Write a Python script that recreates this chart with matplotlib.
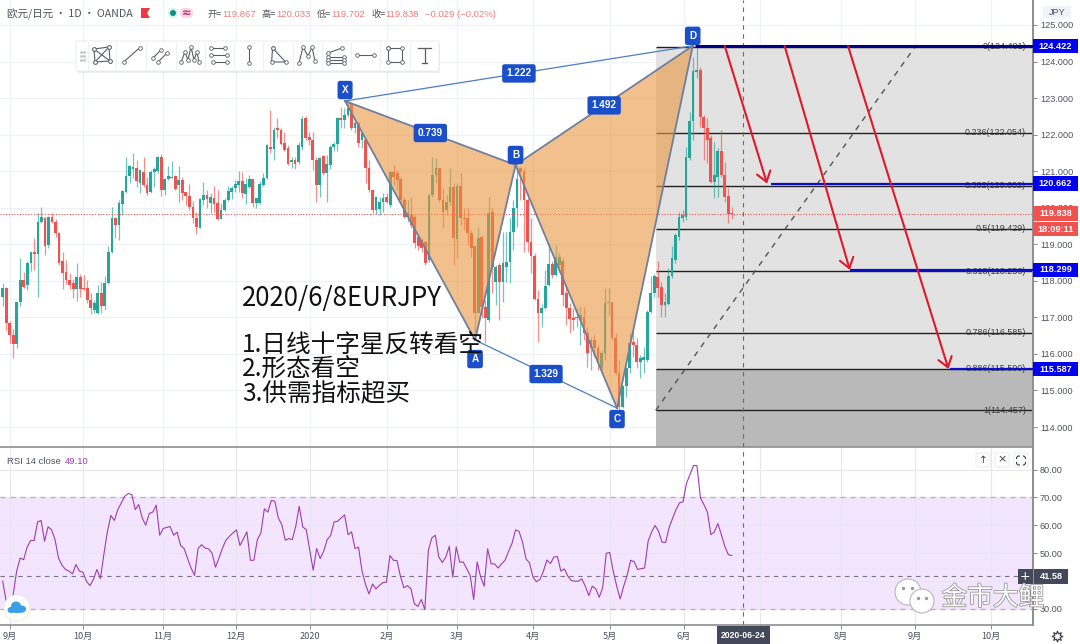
import numpy as np
import matplotlib
matplotlib.use('Agg')
import matplotlib.pyplot as plt
import matplotlib.patheffects as pe
from matplotlib.patches import Rectangle, FancyBboxPatch, Circle, Polygon, Ellipse
from matplotlib.transforms import blended_transform_factory

plt.rcParams['font.family'] = ['Noto Sans CJK SC', 'DejaVu Sans']

# daily candles, 2019-09 to 2020-06
opens = [117.57,117.80,116.86,116.52,116.27,117.43,118.03,117.89,118.48,118.78,
    118.74,119.60,119.71,118.98,119.74,119.62,119.32,118.53,118.23,118.03,
    117.93,117.77,118.10,117.80,117.80,117.48,117.21,117.13,117.66,117.30,
    117.95,118.80,119.71,119.53,120.10,120.44,120.87,121.05,121.08,120.69,
    120.99,120.63,120.42,120.99,121.01,121.40,120.49,120.78,120.81,120.87,
    120.63,120.76,120.42,120.33,120.03,119.71,119.44,120.21,120.35,120.12,
    120.26,120.12,119.69,119.94,120.21,120.44,120.53,120.62,120.73,120.38,
    120.58,120.79,120.12,120.12,120.62,120.82,121.67,121.60,122.17,122.14,
    121.78,121.63,121.26,121.31,121.26,121.67,122.46,121.94,121.85,121.31,
    120.62,121.42,120.94,121.17,121.65,121.74,122.45,122.40,122.54,122.86,
    122.17,122.31,121.85,121.85,121.08,120.49,119.94,119.96,120.17,120.30,
    120.08,120.99,120.94,120.80,120.21,119.76,119.80,119.76,119.19,119.12,
    119.07,118.57,120.35,120.90,121.08,120.21,119.94,120.17,120.58,119.14,
    120.60,119.71,119.71,119.32,118.94,117.11,119.19,117.29,116.93,119.89,
    117.98,118.43,117.98,118.39,118.52,119.35,119.98,121.08,120.99,120.21,
    119.05,118.68,117.50,117.11,117.25,117.89,118.46,118.16,118.43,118.55,
    117.66,117.25,116.97,116.97,116.93,117.02,116.56,116.15,116.38,116.15,
    115.61,116.02,117.39,117.43,116.43,115.47,114.56,115.11,115.61,116.34,
    116.25,115.79,115.83,115.83,117.16,117.66,118.10,117.84,117.34,117.38,
    118.12,118.57,119.21,119.71,119.76,121.35,122.36,123.72,123.77,122.47,
    122.17,121.90,120.71,120.85,121.54,120.90,120.32,119.867]
highs = [117.93,117.84,116.89,116.68,117.43,118.62,118.25,118.53,118.80,119.17,
    119.85,120.01,119.74,119.78,119.85,119.69,119.35,118.80,118.57,118.21,
    118.05,118.48,118.19,118.16,118.03,117.66,117.48,117.89,117.98,118.12,
    118.94,120.01,119.74,120.21,120.49,121.38,121.17,121.49,121.31,121.04,
    121.38,120.85,121.04,121.11,121.42,121.47,120.81,121.13,121.29,120.90,
    121.13,120.85,120.44,120.65,120.19,119.89,120.26,120.70,120.49,120.39,
    120.60,120.49,120.12,120.26,120.60,120.60,120.76,121.01,120.97,120.82,
    120.90,120.80,120.28,120.73,120.94,121.74,122.67,122.22,122.46,122.17,
    122.08,121.72,121.40,121.40,121.79,122.52,122.52,122.08,122.08,121.40,
    121.40,121.44,121.44,121.72,121.81,122.49,122.77,122.74,122.92,122.90,
    122.36,122.34,122.04,121.90,121.31,120.50,120.32,120.30,120.39,120.39,
    121.01,121.17,121.03,120.83,120.30,120.21,120.30,119.80,119.27,119.16,
    119.10,120.38,121.40,121.35,121.08,120.53,120.35,121.08,120.67,120.67,
    120.94,119.98,119.98,119.39,118.95,119.48,119.25,117.48,120.30,119.98,
    118.43,118.48,119.35,119.35,119.71,120.21,121.12,121.12,121.08,120.26,
    119.71,118.75,117.75,117.38,118.30,119.03,118.53,118.98,118.75,118.62,
    117.80,117.39,117.25,117.25,117.29,117.29,116.75,116.47,116.52,116.25,
    116.11,117.80,117.80,117.43,116.56,115.83,115.15,115.65,116.56,116.66,
    116.43,115.97,116.20,117.20,118.12,118.20,118.55,117.98,117.66,118.34,
    118.94,119.30,119.89,119.94,121.67,122.63,124.13,124.41,123.86,122.54,
    122.45,121.99,121.81,121.63,122.13,121.26,120.53,120.033]
lows = [117.30,116.66,116.29,115.88,116.16,117.30,117.80,117.75,118.28,118.30,
    117.57,119.58,118.71,118.89,119.58,119.21,118.44,117.77,117.92,117.77,
    117.52,117.46,117.57,117.75,117.39,117.09,117.11,117.09,117.13,117.21,
    117.92,118.76,119.17,119.12,119.80,120.40,120.67,120.81,120.58,120.40,
    120.58,120.35,120.40,120.58,120.94,120.31,120.35,120.76,120.81,120.49,
    120.17,120.21,120.08,119.94,119.57,119.27,119.44,120.08,119.98,119.85,
    119.88,119.66,119.69,119.91,120.19,120.24,120.44,120.44,120.26,120.09,
    120.53,120.03,119.98,120.09,120.60,120.80,121.49,121.31,121.92,121.72,
    121.54,121.17,121.10,121.06,121.21,121.58,121.85,121.73,121.03,120.15,
    120.30,120.90,120.17,121.06,121.54,121.54,122.19,122.19,122.49,122.13,
    122.04,121.67,121.63,120.67,120.44,119.85,119.82,119.80,119.89,120.12,
    120.03,120.62,120.49,120.12,119.71,119.62,119.44,118.89,118.84,118.80,
    118.43,118.52,120.30,120.67,120.17,119.44,119.80,120.08,118.43,118.62,
    119.53,119.39,118.98,118.66,116.56,117.11,117.02,116.31,116.88,117.66,
    117.34,116.93,117.43,117.98,117.93,118.84,119.48,120.21,118.80,118.80,
    118.21,117.48,116.34,116.73,117.22,117.86,118.07,118.13,118.25,117.30,
    116.79,116.56,116.66,116.75,116.25,116.38,115.65,115.56,115.93,115.56,
    115.56,115.83,117.07,116.38,115.42,114.47,114.51,114.83,115.47,115.93,
    115.61,115.33,115.47,115.79,117.11,117.57,117.57,117.02,117.02,117.34,
    118.07,118.48,119.12,119.62,119.66,121.31,121.85,123.54,122.20,121.32,
    121.22,120.67,120.26,120.30,120.85,120.17,119.59,119.702]
closes = [117.80,116.86,116.52,116.27,117.43,118.03,117.84,118.48,118.78,118.74,
    119.62,119.74,118.96,119.74,119.60,119.32,118.50,118.21,118.01,117.89,
    117.77,118.10,117.77,117.77,117.48,117.25,117.39,117.66,117.30,117.95,
    118.80,119.71,119.53,120.12,120.46,120.87,121.13,121.11,120.72,121.02,
    120.63,120.40,120.99,121.05,121.40,120.49,120.79,120.87,120.85,120.51,
    120.76,120.40,120.31,120.01,119.71,119.48,120.24,120.35,120.24,120.30,
    120.09,119.69,119.94,120.21,120.47,120.55,120.64,120.73,120.40,120.64,
    120.79,120.12,120.26,120.64,120.82,121.72,121.60,122.13,122.13,121.74,
    121.58,121.21,121.31,121.21,121.72,122.43,121.90,121.85,121.31,120.62,
    121.35,120.94,121.19,121.67,121.74,122.45,122.40,122.54,122.72,122.17,
    122.31,121.76,122.04,121.08,120.49,119.94,120.30,120.17,120.26,120.17,
    120.99,120.85,120.76,120.21,119.76,119.85,119.53,119.03,118.94,118.89,
    118.48,120.35,120.90,121.08,120.21,119.89,120.17,120.58,119.16,120.60,
    119.71,119.69,119.30,118.89,117.11,119.16,117.29,116.97,119.85,118.39,
    118.39,117.98,118.48,118.52,119.35,119.98,120.80,120.99,120.21,119.05,
    118.68,117.50,117.11,117.25,117.86,118.46,118.16,118.64,118.66,117.61,
    117.25,116.95,116.93,117.02,117.07,116.56,116.02,116.38,116.15,115.83,
    116.02,117.39,117.43,116.43,115.47,114.56,115.11,115.61,116.29,116.25,
    115.79,115.88,115.93,117.16,117.66,118.12,117.80,117.34,117.43,118.12,
    118.62,119.26,119.76,119.80,121.40,122.36,123.75,123.77,122.47,122.17,
    121.85,120.71,120.90,121.54,120.90,120.30,119.83,119.838]

rsi = [39.9,32.7,30.3,35.1,43.5,48.2,47.6,52.1,54.5,54.5,
    61.2,61.7,54.2,59.4,58.4,54.8,48.2,45.6,44.1,43.5,
    42.5,45.9,43.5,43.1,39.9,38.3,40.5,44.1,40.8,49.5,
    57.6,63.5,61.7,65.6,68.0,70.4,71.4,71.0,65.6,67.4,
    62.6,60.0,64.2,64.7,67.2,56.4,58.8,59.2,59.5,56.4,
    57.5,52.7,51.6,48.0,44.6,42.0,51.6,53.0,51.8,51.5,
    50.0,44.9,48.2,51.8,54.6,56.0,57.2,58.3,52.7,55.1,
    57.6,47.4,47.4,54.8,57.2,65.9,64.7,68.9,68.6,62.6,
    60.2,54.6,55.2,54.8,59.6,66.8,59.4,58.4,51.2,43.8,
    51.6,48.0,50.6,54.8,56.3,61.2,61.4,62.6,63.7,56.6,
    57.6,51.6,52.1,43.5,38.7,35.3,38.9,37.1,38.4,39.4,
    39.5,49.1,47.4,47.3,41.7,37.5,38.3,37.2,31.8,30.8,
    33.3,29.7,50.9,55.4,56.4,48.6,46.6,48.5,52.4,41.3,
    52.2,46.7,46.8,44.4,41.9,33.3,46.8,41.4,38.1,51.5,
    46.1,46.1,44.6,46.1,47.4,50.6,53.5,58.3,57.8,54.0,
    47.9,46.5,41.3,39.7,40.5,43.5,47.5,46.2,48.6,48.7,
    43.5,44.3,41.7,40.1,39.9,39.9,40.7,38.1,34.7,38.1,
    37.1,34.1,37.7,49.9,50.2,43.5,38.1,33.5,38.1,42.0,
    47.4,46.9,44.1,44.4,44.6,54.2,57.5,59.9,57.8,53.9,
    53.8,59.0,62.4,65.6,68.0,68.4,75.0,78.2,81.4,81.4,
    69.8,67.4,64.7,56.6,57.6,60.6,56.6,52.4,49.4,49.10]

# harmonic pattern pivots (bar index, price)
pivot_names = ['X', 'A', 'B', 'C', 'D']
pivot_bars = [97.2, 134.1, 145.6, 174.4, 195.9]
pivot_prices = [122.92, 116.38, 121.17, 114.52, 124.43]
ratio_labels = ['0.739', '1.222', '1.492', '1.329']
ratio_legs = [('X', 'B'), ('X', 'D'), ('B', 'D'), ('A', 'C')]

fib_ratios = ['0', '0.236', '0.382', '0.5', '0.618', '0.786', '0.886', '1']
fib_prices = [124.401, 122.054, 120.602, 119.429, 118.256, 116.585, 115.590, 114.457]
fib_start = 185.4

# targets: horizontal line start bar, price; arrows go from the D level down to them
target_bars = [218.0, 240.5, 269.0]
target_prices = [120.662, 118.299, 115.587]
arrow_starts = [205.0, 222.0, 240.0]
arrow_tips = [217.0, 240.5, 268.5]
top_price = 124.422

month_pos = [2, 22.7, 45.5, 66.2, 87.2, 109, 129, 150.5, 172.4, 193.4, 215, 238, 259, 280.6]
month_labels = ['9月', '10月', '11月', '12月', '2020', '2月', '3月', '4月', '5月', '6月', '', '8月', '9月', '10月']
price_ticks = [114, 115, 116, 117, 118, 119, 120, 121, 122, 123, 124, 125]
rsi_ticks = [30, 40, 50, 60, 70, 80]
cross_bar = 210.1

GREEN = '#26a69a'
RED = '#ef5350'
TXT = '#50535e'
GRID = '#eef1f6'
BLUE = '#1a4fc9'
W, H = 1080, 644
LAT = ['Liberation Sans', 'Noto Sans CJK SC']

fig = plt.figure(figsize=(W / 100, H / 100), dpi=100, facecolor='white')
ax = fig.add_axes([0, (H - 447) / H, 1033 / W, 447 / H])
ax2 = fig.add_axes([0, (H - 625) / H, 1033 / W, (625 - 447.7) / H])
ov = fig.add_axes([0, 0, 1, 1], zorder=10)
ov.set_xlim(0, W)
ov.set_ylim(H, 0)
ov.axis('off')
ov.patch.set_alpha(0)

xlim = (-0.766, 292.5)

# ---- price panel
ax.set_xlim(xlim)
ax.set_ylim(113.454, 125.684)
ax.set_axisbelow(True)
ax.grid(True, color=GRID, lw=0.9)
ax.set_xticks(month_pos)
ax.set_yticks(price_ticks)
ax.set_yticklabels(['%.3f' % t for t in price_ticks], family=LAT, fontsize=6.6, color=TXT)
ax.yaxis.tick_right()
ax.tick_params(axis='y', length=3, width=0.7, color='#8a8a8a', pad=2)
ax.tick_params(axis='x', length=0, labelbottom=False)
for s in ['top', 'left']:
    ax.spines[s].set_visible(False)
ax.spines['right'].set_color('#8e8e8e')
ax.spines['right'].set_linewidth(1.4)
ax.spines['bottom'].set_color('#8e8e8e')
ax.spines['bottom'].set_linewidth(1.2)

# fib zones
ax.fill_between([fib_start, xlim[1]], fib_prices[6], fib_prices[0], color='#e2e2e2', lw=0, zorder=1)
ax.fill_between([fib_start, xlim[1]], 113.454, fib_prices[6], color='#b9b9b9', lw=0, zorder=1)
ax.hlines(fib_prices, fib_start, xlim[1], color='#222222', lw=1.0, zorder=2)
ax.plot([fib_start, 259], [fib_prices[-1], fib_prices[0]], color='#555555', lw=1.0, ls=(0, (4, 4)), zorder=2)

# candles
bar_x = np.arange(len(opens))
o = np.array(opens)
c = np.array(closes)
cols = [GREEN if b >= a else RED for a, b in zip(opens, closes)]
ax.vlines(bar_x, lows, highs, colors=cols, lw=0.9, alpha=0.65, zorder=3)
ax.bar(bar_x, np.maximum(np.abs(c - o), 0.03), bottom=np.minimum(o, c), width=0.78, color=cols, lw=0, zorder=3)

# last price + crosshair
ax.axhline(closes[-1], color=RED, lw=0.8, ls=(0, (1, 1.5)), zorder=4)
ax.axvline(cross_bar, color='#6a6d78', lw=0.8, ls=(0, (4, 4)), zorder=4)

# pattern
px = dict(zip(pivot_names, zip(pivot_bars, pivot_prices)))
for tri in (['X', 'A', 'B'], ['B', 'C', 'D']):
    pts = [px[n] for n in tri]
    ax.add_patch(Polygon(pts, closed=True, facecolor='#e8963f', alpha=0.6, edgecolor='none', zorder=5))
for a, b in [('X', 'A'), ('A', 'B'), ('X', 'B'), ('B', 'C'), ('C', 'D'), ('B', 'D')]:
    ax.plot([px[a][0], px[b][0]], [px[a][1], px[b][1]], color='#6f7f9c', lw=1.3, zorder=6)
for a, b in [('X', 'D'), ('A', 'C')]:
    ax.plot([px[a][0], px[b][0]], [px[a][1], px[b][1]], color='#4f7cc4', lw=0.9, zorder=6)

box = dict(boxstyle='round,pad=0.42,rounding_size=0.25', fc=BLUE, ec='none')
for lab, (a, b) in zip(ratio_labels, ratio_legs):
    ax.text((px[a][0] + px[b][0]) / 2, (px[a][1] + px[b][1]) / 2, lab, color='white', fontsize=7.2,
            weight='bold', family=LAT, ha='center', va='center', bbox=box, zorder=8)
for name, off in zip(pivot_names, [11, -19, 10, -11, 10]):
    ax.annotate(name, px[name], xytext=(0, off), textcoords='offset pixels', color='white', fontsize=7.2,
                weight='bold', family=LAT, ha='center', va='center', bbox=box, zorder=8)

# fib labels
for r, p in zip(fib_ratios, fib_prices):
    ax.text(1026 / 1033, p, '%s(%.3f)' % (r, p), transform=ax.get_yaxis_transform(), ha='right', va='center',
            fontsize=6.4, color='#3a3a3a', family=LAT, zorder=7)

# targets
ax.hlines(top_price, 196.5, xlim[1], color='#00008b', lw=2.2, zorder=7)
ax.hlines(target_prices, target_bars, xlim[1], color='#0c0ccf', lw=1.6, zorder=7)
for s, t, p in zip(arrow_starts, arrow_tips, target_prices):
    ax.annotate('', xy=(t, p), xytext=(s, top_price),
                arrowprops=dict(arrowstyle='->,head_length=0.7,head_width=0.5', color='#e0182d', lw=1.5,
                                shrinkA=0, shrinkB=0), zorder=7)

# price tags on the axis
trans = blended_transform_factory(ax.transAxes, ax.transData)


def price_tag(price, color, txt):
    ax.add_patch(Rectangle((1.0, price - 0.2), 45 / 1033, 0.4, transform=trans, fc=color, ec='none',
                           clip_on=False, zorder=9))
    ax.text(1 + 22.5 / 1033, price, txt, transform=trans, color='white', fontsize=6.6, weight='bold',
            family=LAT, ha='center', va='center', clip_on=False, zorder=10)


price_tag(top_price, '#0000ee', '%.3f' % top_price)
for p in target_prices:
    price_tag(p, '#0000ee', '%.3f' % p)
price_tag(closes[-1], RED, '%.3f' % closes[-1])
ov.add_patch(Rectangle((1033, 221.5), 45, 14.5, fc=RED, ec='none'))
ov.text(1055.5, 229, '18:09:11', color='white', fontsize=6.6, weight='bold', family=LAT, ha='center', va='center')

# ---- rsi panel
ax2.set_xlim(xlim)
ax2.set_ylim(24.15, 87.83)
ax2.set_axisbelow(True)
ax2.grid(True, color='#e9e6f2', lw=0.9)
ax2.axhspan(30, 70, color='#f3e5fd', lw=0, zorder=0.5)
ax2.axhline(70, color='#b9a9c4', lw=0.9, ls=(0, (4, 4)), zorder=1)
ax2.axhline(30, color='#b9a9c4', lw=0.9, ls=(0, (4, 4)), zorder=1)
ax2.axhline(41.58, color='#7b7488', lw=0.8, ls=(0, (4, 4)), zorder=1)
ax2.axvline(cross_bar, color='#6a6d78', lw=0.8, ls=(0, (4, 4)), zorder=1)
rsi_x = np.arange(len(rsi)) * (len(opens) - 1) / (len(rsi) - 1)
ax2.plot(rsi_x, rsi, color='#9c3db0', lw=0.8, zorder=3)
ax2.set_xticks(month_pos)
ax2.set_xticklabels(month_labels, fontsize=6.6, color=TXT)
ax2.set_yticks(rsi_ticks)
ax2.set_yticklabels(['' if t == 40 else '%.2f' % t for t in rsi_ticks], family=LAT, fontsize=6.6, color=TXT)
ax2.yaxis.tick_right()
ax2.tick_params(axis='y', length=3, width=0.7, color='#8a8a8a', pad=2)
ax2.tick_params(axis='x', length=3, width=0.7, color='#8a8a8a', pad=2)
for s in ['top', 'left']:
    ax2.spines[s].set_visible(False)
ax2.spines['right'].set_color('#8e8e8e')
ax2.spines['right'].set_linewidth(1.4)
ax2.spines['bottom'].set_color('#8e8e8e')
ax2.spines['bottom'].set_linewidth(1.2)
ax2.text(7 / 1033, 0.92, 'RSI 14 close', transform=ax2.transAxes, fontsize=6.8, color=TXT, family=LAT, va='center')
ax2.text(65 / 1033, 0.92, '%.2f' % rsi[-1], transform=ax2.transAxes, fontsize=6.8, color='#9c3db0', family=LAT, va='center')

# ---- header
ov.text(7, 14, '欧元/日元 · 1D · OANDA', fontsize=7.6, color=TXT, va='center')
ov.add_patch(Polygon([(141, 8), (150, 8), (147, 13), (150, 18), (141, 18)], fc='#f23645', ec='none'))
ov.add_patch(FancyBboxPatch((168, 8), 10, 10, boxstyle='round,pad=0,rounding_size=5', fc='#d5f2ee', ec='none'))
ov.add_patch(FancyBboxPatch((180, 8), 13, 10, boxstyle='round,pad=0,rounding_size=5', fc='#fbd6e3', ec='none'))
ov.add_patch(Circle((173, 13), 3, fc='#0e8f80', ec='none'))
ov.text(186.5, 13, '≈', fontsize=8, color='#d81b60', ha='center', va='center', family='DejaVu Sans', weight='bold')
for xp, lab, val in [(208, '开', '119.867'), (262, '高', '120.033'), (317, '低', '119.702'), (371, '收', '119.838')]:
    ov.text(xp, 14, lab + '=', fontsize=6.6, color=TXT, va='center')
    ov.text(xp + 14, 14, val, fontsize=6.8, color='#ef7d7a', family=LAT, va='center')
ov.text(425, 14, '−0.029 (−0.02%)', fontsize=6.8, color='#ef7d7a', family=LAT, va='center')
ov.add_patch(Rectangle((1043, 6), 28, 12, fc='#f0f3fa', ec='none'))
ov.text(1057, 12, 'JPY', fontsize=6.6, color=TXT, family=LAT, ha='center', va='center')

# ---- drawing toolbar
ov.add_patch(FancyBboxPatch((77, 43), 363, 30, boxstyle='round,pad=0,rounding_size=2', fc='#e4e6ea', ec='none', alpha=0.7))
ov.add_patch(FancyBboxPatch((76, 41), 363, 30, boxstyle='round,pad=0,rounding_size=2', fc='white', ec='#e6e8ee', lw=0.6))
for xs in [88, 116, 146, 176, 205, 234, 263, 293, 322, 351, 380, 410]:
    ov.plot([xs, xs], [42, 70], color='#f0f1f4', lw=0.7)
for dx in (80.5, 83.5):
    ov.plot([dx] * 3, [52, 56, 60], ls='none', marker='s', ms=1, color='#c8cad0')
icon_cx = [102, 131.5, 161, 190, 219, 248.6, 277.6, 307, 336, 366, 395]
icon_paths = [
    [[(-8, -6), (7, -8), (8, 6), (-7, 7), (-8, -6), (8, 6)], [(7, -8), (-7, 7)]],
    [[(-8, 7), (8, -7)]],
    [[(-8, 3), (0, -5)], [(-3, 7), (6, -2)]],
    [[(-9, 7), (-5, -3), (-2, 5), (1, -8), (4, 5), (7, -3), (9, 7)]],
    [[(-8, -7), (6, -7)], [(-8, 0), (8, 0)], [(-6, 7), (8, 7)]],
    [[(0, -8), (0, 8)]],
    [[(-5, -7), (8, 7), (-6, 7), (-5, -7)]],
    [[(-8, 8), (-4, -8), (1, 1), (5, -8), (8, 6)]],
    [[(-8, -2), (6, -7)], [(-8, 2), (8, 2)], [(-8, 5), (8, 5)], [(-8, 8), (8, 8)]],
    [[(-9, 0), (8, 0)]],
    [[(-7, -7), (7, -7), (7, 7), (-7, 7), (-7, -7)]],
]
for cx, paths in zip(icon_cx, icon_paths):
    for path in paths:
        xy = np.array(path, dtype=float)
        ov.plot(cx + xy[:, 0], 55 + xy[:, 1], color='#5a5d68', lw=0.8, marker='o', ms=2.6,
                mfc='white', mec='#5a5d68', mew=0.6)
ov.plot([418, 431], [48, 48], color='#5a5d68', lw=0.9)
ov.plot([424.5, 424.5], [48, 63], color='#5a5d68', lw=0.9)
ov.plot([422, 427], [63, 63], color='#5a5d68', lw=0.9)

# ---- annotation text
ov.text(242, 298, '2020/6/8EURJPY', fontsize=18.6, color='#111111', va='center')
ann_lines = ['1.日线十字星反转看空', '2.形态看空', '3.供需指标超买']
for y, line in zip([346, 370, 394], ann_lines):
    ov.text(242, y, line, fontsize=17.7, color='#111111', va='center')

# ---- rsi buttons, tags
for cx in [983, 1002, 1021]:
    ov.add_patch(FancyBboxPatch((cx - 7, 453), 14, 14, boxstyle='round,pad=0,rounding_size=2', fc='white', ec='#e6e8ee', lw=0.6))
ov.text(983, 459.5, '↑', fontsize=7.5, color='#3a3d48', ha='center', va='center', family='DejaVu Sans')
ov.text(1002, 459.5, '×', fontsize=8, color='#3a3d48', ha='center', va='center', family='DejaVu Sans')
# maximize glyph, not in any installed font
ov.add_patch(FancyBboxPatch((1016.5, 456), 9, 9, boxstyle='round,pad=0,rounding_size=2.5', fc='none', ec='#3a3d48', lw=0.8))
ov.add_patch(Rectangle((1019.5, 454), 3, 13, fc='white', ec='none'))
ov.add_patch(Rectangle((1014.5, 459), 13, 3, fc='white', ec='none'))
ov.add_patch(Rectangle((1018, 569), 14.5, 15, fc='#434958', ec='none'))
ov.text(1025, 576, '+', fontsize=9, color='white', ha='center', va='center', family='DejaVu Sans')
ov.add_patch(Rectangle((1034, 569), 34, 15, fc='#434958', ec='none'))
ov.text(1051, 576.5, '41.58', fontsize=6.6, color='white', weight='bold', family=LAT, ha='center', va='center')
ov.add_patch(Rectangle((717, 626), 53, 18, fc='#434958', ec='none'))
ov.text(743.5, 635, '2020-06-24', fontsize=6.2, color='white', weight='bold', family=LAT, ha='center', va='center')
ov.plot([1057], [636], marker=(8, 1, 0), ms=8, mfc='white', mec='#3a3d48', mew=0.8)
ov.add_patch(Circle((1057, 636), 2, fc='white', ec='#3a3d48', lw=0.7))

# cloud logo, bottom left
ov.add_patch(Circle((17, 608), 13, fc='white', ec='#f4ece4', lw=0.8))
for cx, cy, ew, eh in [(11, 610, 7, 6), (16, 606, 10, 9), (22, 609, 8, 7), (17, 611, 15, 4)]:
    ov.add_patch(Ellipse((cx, cy), ew, eh, fc='#3b9fe8', ec='none'))

# watermark
for cx, cy, r in [(908, 592, 13), (922, 601, 12)]:
    ov.add_patch(Circle((cx, cy), r, fc='white', ec='#b8b8b8', lw=0.8))
ov.plot([903, 912, 918, 926], [588, 588, 598, 598], ls='none', marker='o', ms=1.4, color='#9a9a9a')
ov.text(993, 598, '金市大鲤', fontsize=18.5, color='white', ha='center', va='center',
        path_effects=[pe.withStroke(linewidth=1.1, foreground='#8f8f8f')])

fig.savefig('out.png', dpi=100)
